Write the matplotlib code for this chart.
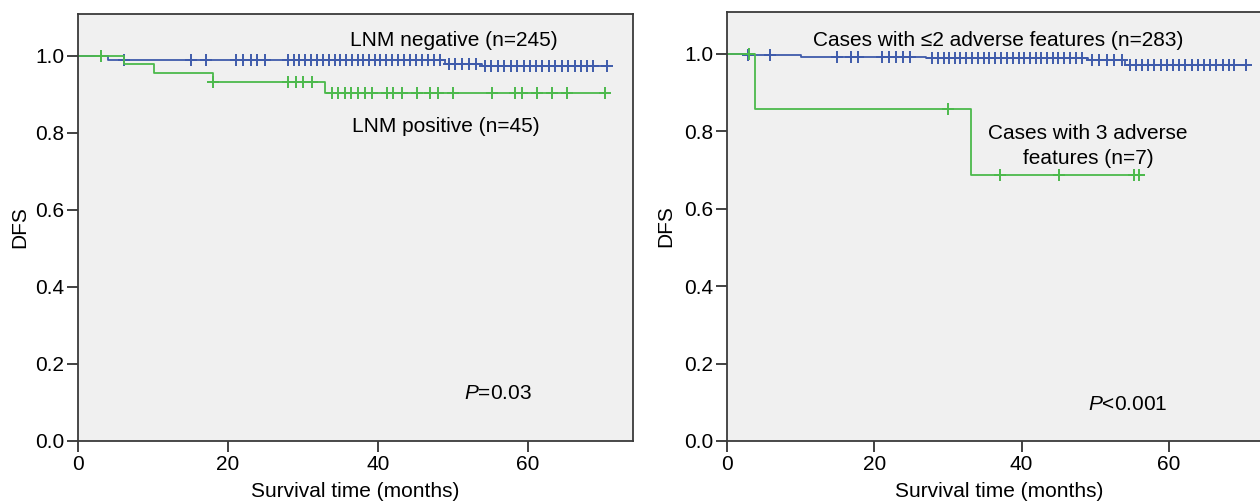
##set up
import numpy as np
import matplotlib
matplotlib.use('Agg')
import matplotlib.pyplot as plt

plt.rcParams['font.family'] = ['Liberation Sans', 'DejaVu Sans']
plt.rcParams['mathtext.fontset'] = 'custom'
plt.rcParams['mathtext.it'] = 'Liberation Sans:italic'
plt.rcParams['mathtext.rm'] = 'Liberation Sans'

blue = '#3f5bab'
green = '#4cb94c'

##data (months, DFS)
#left panel - LNM negative
neg_t = [0, 4.0, 48.9, 53.8, 70.5]
neg_s = [1.0, 0.988, 0.979, 0.972, 0.972]
neg_cens = [6.1, 15.1, 17.0, 21.1, 22.0, 23.0, 23.9, 24.9,
            28.0, 28.8, 29.5, 30.3, 31.1, 31.8, 32.6, 33.4, 34.2, 34.9, 35.7, 36.5, 37.3, 38.0,
            38.8, 39.6, 40.3, 41.1, 41.9, 42.7, 43.4, 44.2, 45.0, 45.8, 46.6, 47.4, 48.3,
            49.4, 50.3, 51.2, 52.1, 53.0,
            54.3, 55.1, 56.0, 56.8, 57.7, 58.5, 59.4, 60.2, 61.1, 61.9, 62.8, 63.6, 64.5, 65.3,
            66.2, 67.0, 67.9, 68.7, 70.5]

#left panel - LNM positive
pos_t = [0, 6.1, 10.1, 18.0, 32.9, 70.3]
pos_s = [1.0, 0.977, 0.954, 0.931, 0.903, 0.903]
pos_cens = [3.1, 18.0, 28.0, 29.0, 30.0, 31.2, 33.8, 34.7, 35.6, 36.4, 37.3, 38.2, 39.2,
            41.2, 42.0, 43.2, 45.2, 46.9, 48.0, 50.0, 55.2, 58.3, 59.2, 61.2, 63.2, 65.2, 70.3]

#right panel - <=2 adverse features
low_t = [0, 2.5, 10.0, 27.0, 49.0, 54.0, 70.5]
low_s = [1.0, 0.996, 0.993, 0.990, 0.983, 0.971, 0.971]
low_cens = [2.9, 5.9, 15.0, 16.8, 17.8, 21.0, 22.0, 22.9, 23.9, 24.8,
            27.8, 28.6, 29.4, 30.2, 30.9, 31.7, 32.5, 33.3, 34.1, 34.9, 35.6, 36.4, 37.2, 38.0,
            38.8, 39.6, 40.3, 41.1, 41.9, 42.7, 43.5, 44.3, 45.0, 45.8, 46.6, 47.4, 48.2,
            49.5, 50.5, 51.6, 52.6, 53.6,
            54.7, 55.5, 56.4, 57.2, 58.0, 58.9, 59.7, 60.6, 61.4, 62.2, 63.1, 63.9, 64.8, 65.6,
            66.4, 67.3, 68.1, 68.9, 70.5]

#right panel - 3 adverse features
high_t = [0, 3.8, 33.1, 56.6]
high_s = [1.0, 0.857, 0.686, 0.686]
high_cens = [3.0, 30.0, 37.1, 45.1, 55.2, 55.9]

xticks = [0, 20, 40, 60]
yticks = [0.0, 0.2, 0.4, 0.6, 0.8, 1.0]


def km(ax, t, s, cens, color):
    t = np.array(t)
    s = np.array(s)
    ax.step(t, s, where='post', color=color, lw=1.3)
    c = np.array(cens)
    idx = np.searchsorted(t, c, side='right') - 1
    ax.plot(c, s[idx], ls='none', marker='+', ms=8, mew=1.4, color=color)


def style(ax):
    ax.set_facecolor('#f0f0f0')
    ax.set_xlim(0, 74)
    ax.set_ylim(0, 1.108)
    ax.set_xticks(xticks)
    ax.set_yticks(yticks)
    ax.set_yticklabels(['%.1f' % v for v in yticks])
    ax.tick_params(axis='both', direction='out', length=8, width=1.3,
                   color='#333333', labelsize=15, pad=2)
    for sp in ax.spines.values():
        sp.set_color('#3a3a3a')
        sp.set_linewidth(1.3)
    ax.set_xlabel('Survival time (months)', fontsize=15)
    ax.xaxis.label.set_va('center')
    ax.xaxis.set_label_coords(0.5, -0.118)
    ax.set_ylabel('DFS', fontsize=15)


##set up the figure
fig = plt.figure(figsize=(12.6, 5.04), dpi=100)
ax1 = fig.add_axes([78 / 1260, 63 / 504, 555 / 1260, 427 / 504])
ax2 = fig.add_axes([727 / 1260, 63 / 504, 545 / 1260, 429 / 504])

##left panel
km(ax1, neg_t, neg_s, neg_cens, blue)
km(ax1, pos_t, pos_s, pos_cens, green)
style(ax1)
ax1.yaxis.set_label_coords(-0.087, 0.5)
ax1.text(50.1, 1.038, 'LNM negative (n=245)', ha='center', va='center', fontsize=15)
ax1.text(49.1, 0.815, 'LNM positive (n=45)', ha='center', va='center', fontsize=15)
ax1.text(51.5, 0.122, '$\\it{P}$=0.03', ha='left', va='center', fontsize=15)

##right panel
km(ax2, low_t, low_s, low_cens, blue)
km(ax2, high_t, high_s, high_cens, green)
style(ax2)
ax2.yaxis.set_label_coords(-0.095, 0.5)
ax2.text(36.8, 1.034, 'Cases with \u22642 adverse features (n=283)', ha='center', va='center', fontsize=15)
ax2.text(49.0, 0.762, 'Cases with 3 adverse\nfeatures (n=7)', ha='center', va='center',
         fontsize=15, linespacing=1.35)
ax2.text(49.0, 0.093, '$\\it{P}$<0.001', ha='left', va='center', fontsize=15)

##save
fig.savefig('out.png', dpi=100)
